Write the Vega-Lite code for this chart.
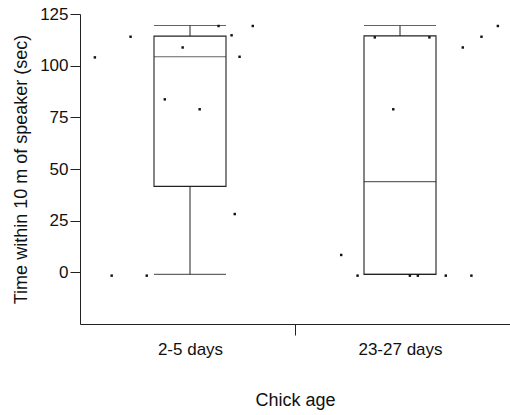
{
  "$schema": "https://vega.github.io/schema/vega-lite/v6.json",
  "autosize": "none",
  "width": 430,
  "height": 310,
  "padding": {"left": 80, "top": 14, "right": 0, "bottom": 91},
  "background": "white",
  "config": {
    "view": {"stroke": null},
    "font": "Liberation Sans",
    "axis": {
      "domainColor": "#222",
      "tickColor": "#222",
      "labelColor": "#111",
      "titleColor": "#111",
      "labelFont": "Liberation Sans",
      "titleFont": "Liberation Sans",
      "titleFontWeight": "normal",
      "grid": false
    }
  },
  "datasets": {
    "boxes": [
      {"age": "2-5 days", "pos": 0.5, "lo": -1, "q1": 41.6, "median": 104.3, "q3": 114.3, "hi": 119.4},
      {"age": "23-27 days", "pos": 1.5, "lo": -1, "q1": -1, "median": 43.9, "q3": 114.4, "hi": 119.4}
    ],
    "points": [
      {"age": "2-5 days", "pos": 0.047, "time": 104},
      {"age": "2-5 days", "pos": 0.217, "time": 114},
      {"age": "2-5 days", "pos": 0.465, "time": 108.8},
      {"age": "2-5 days", "pos": 0.380, "time": 83.7},
      {"age": "2-5 days", "pos": 0.546, "time": 78.9},
      {"age": "2-5 days", "pos": 0.636, "time": 119.2},
      {"age": "2-5 days", "pos": 0.698, "time": 114.7},
      {"age": "2-5 days", "pos": 0.736, "time": 104.3},
      {"age": "2-5 days", "pos": 0.799, "time": 119.2},
      {"age": "2-5 days", "pos": 0.713, "time": 28.2},
      {"age": "2-5 days", "pos": 0.127, "time": -1.6},
      {"age": "2-5 days", "pos": 0.294, "time": -1.6},
      {"age": "23-27 days", "pos": 1.380, "time": 113.7},
      {"age": "23-27 days", "pos": 1.640, "time": 113.7},
      {"age": "23-27 days", "pos": 1.468, "time": 78.9},
      {"age": "23-27 days", "pos": 1.799, "time": 108.8},
      {"age": "23-27 days", "pos": 1.888, "time": 114},
      {"age": "23-27 days", "pos": 1.966, "time": 119.2},
      {"age": "23-27 days", "pos": 1.220, "time": 8.4},
      {"age": "23-27 days", "pos": 1.298, "time": -1.6},
      {"age": "23-27 days", "pos": 1.547, "time": -1.6},
      {"age": "23-27 days", "pos": 1.585, "time": -1.6},
      {"age": "23-27 days", "pos": 1.718, "time": -1.6},
      {"age": "23-27 days", "pos": 1.840, "time": -1.6}
    ]
  },
  "encoding": {
    "x": {
      "field": "pos",
      "type": "quantitative",
      "scale": {"domain": [0, 2], "nice": false, "zero": false},
      "axis": {
        "title": "Chick age",
        "titleFontSize": 18,
        "titlePadding": 34,
        "values": [0.5, 1, 1.5],
        "labelExpr": "datum.value == 0.5 ? '2-5 days' : datum.value == 1.5 ? '23-27 days' : ''",
        "labelFontSize": 17,
        "labelPadding": 6,
        "tickSize": 11,
        "tickOpacity": {"condition": {"test": "datum.value == 1", "value": 1}, "value": 0},
        "labelFlush": false
      }
    }
  },
  "layer": [
    {
      "data": {"name": "boxes"},
      "mark": {"type": "rule", "color": "#222", "strokeWidth": 1},
      "encoding": {
        "y": {"field": "q3", "type": "quantitative"},
        "y2": {"field": "hi"}
      }
    },
    {
      "data": {"name": "boxes"},
      "mark": {"type": "rule", "color": "#222", "strokeWidth": 1},
      "encoding": {
        "y": {"field": "lo", "type": "quantitative"},
        "y2": {"field": "q1"}
      }
    },
    {
      "data": {"name": "boxes"},
      "mark": {"type": "bar", "width": 72, "fill": "white", "stroke": "#222", "strokeWidth": 1.1},
      "encoding": {
        "y": {
          "field": "q1",
          "type": "quantitative",
          "scale": {"domain": [-25, 125], "nice": false, "zero": false},
          "axis": {
            "title": "Time within 10 m of speaker (sec)",
            "titleFontSize": 18,
            "titlePadding": 9,
            "values": [0, 25, 50, 75, 100, 125],
            "labelFontSize": 17,
            "labelPadding": 2,
            "tickSize": 10
          }
        },
        "y2": {"field": "q3"}
      }
    },
    {
      "data": {"name": "boxes"},
      "mark": {"type": "tick", "orient": "horizontal", "size": 72, "thickness": 1.1, "color": "#222"},
      "encoding": {"y": {"field": "median", "type": "quantitative"}}
    },
    {
      "data": {"name": "boxes"},
      "mark": {"type": "tick", "orient": "horizontal", "size": 72, "thickness": 1.1, "color": "#222"},
      "encoding": {"y": {"field": "hi", "type": "quantitative"}}
    },
    {
      "data": {"name": "boxes"},
      "mark": {"type": "tick", "orient": "horizontal", "size": 72, "thickness": 1.1, "color": "#222"},
      "encoding": {"y": {"field": "lo", "type": "quantitative"}}
    },
    {
      "data": {"name": "points"},
      "mark": {"type": "square", "size": 6, "filled": true, "color": "#111", "opacity": 1},
      "encoding": {"y": {"field": "time", "type": "quantitative"}}
    }
  ]
}
